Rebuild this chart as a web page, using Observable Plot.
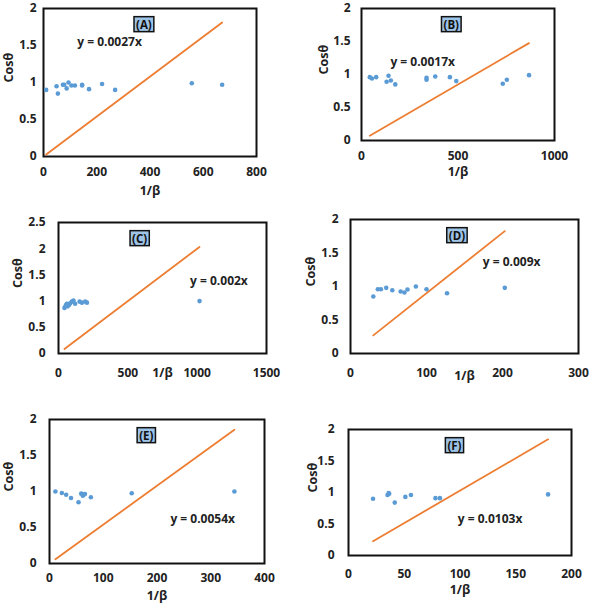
<!DOCTYPE html>
<html><head><meta charset="utf-8">
<script src="https://cdn.jsdelivr.net/npm/d3@7"></script>
<script src="https://cdn.jsdelivr.net/npm/@observablehq/plot@0.6"></script>
<style>
body{margin:0;background:#fff;}
#fig{position:relative;width:591px;height:604px;overflow:hidden;}
#fig svg{position:absolute;overflow:visible;}
</style></head><body><div id="fig"></div>
<script>
// ---- data ----
const labels = ["(A)", "(B)", "(C)", "(D)", "(E)", "(F)"];
const slopes = [0.0027, 0.0017, 0.002, 0.009, 0.0054, 0.0103];
const equations = ["y = 0.0027x", "y = 0.0017x", "y = 0.002x", "y = 0.009x", "y = 0.0054x", "y = 0.0103x"];

const xA = [10, 49, 54, 73, 78, 87, 94, 105, 118, 145, 145, 171, 220, 269, 557, 671];
const yA = [0.90, 0.95, 0.85, 0.97, 0.97, 0.92, 1.00, 0.96, 0.96, 0.97, 0.96, 0.91, 0.98, 0.90, 0.99, 0.97];

const xB = [43, 54, 76, 130, 140, 152, 175, 337, 337, 382, 458, 491, 732, 753, 868];
const yB = [0.96, 0.94, 0.96, 0.89, 0.98, 0.91, 0.85, 0.95, 0.92, 0.97, 0.96, 0.90, 0.86, 0.92, 0.99];

const xC = [43, 53, 60, 67, 77, 84, 96, 108, 120, 152, 169, 193, 205, 1017];
const yC = [0.87, 0.92, 0.95, 0.90, 0.93, 0.96, 0.99, 1.01, 0.95, 0.99, 0.97, 0.99, 0.97, 1.00];

const xD = [30, 36, 40, 47, 55, 66, 71, 75, 86, 100, 127, 203];
const yD = [0.85, 0.96, 0.96, 0.98, 0.945, 0.925, 0.91, 0.955, 1.00, 0.96, 0.90, 0.98];

const xE = [11, 23, 31, 40, 54, 59, 62, 64, 66, 77, 153, 344];
const yE = [1.00, 0.98, 0.955, 0.91, 0.85, 0.97, 0.94, 0.96, 0.965, 0.92, 0.975, 1.00];

const xF = [22, 35, 36, 36.5, 41.5, 51, 56, 78, 82, 179];
const yF = [0.90, 0.96, 0.99, 0.98, 0.84, 0.93, 0.96, 0.91, 0.91, 0.97];

const xTicks = [
  [0, 200, 400, 600, 800],
  [0, 500, 1000],
  [0, 500, 1000, 1500],
  [0, 100, 200, 300],
  [0, 100, 200, 300, 400],
  [0, 50, 100, 150, 200]
];
const yTicks = [
  [0, 0.5, 1, 1.5, 2],
  [0, 0.5, 1, 1.5, 2],
  [0, 0.5, 1, 1.5, 2, 2.5],
  [0, 0.5, 1, 1.5, 2],
  [0, 0.5, 1, 1.5, 2],
  [0, 0.5, 1, 1.5, 2]
];
const xSeries = [xA, xB, xC, xD, xE, xF];
const ySeries = [yA, yB, yC, yD, yE, yF];

// ---- layout (positions only) ----
const layout = [
  {left:0,   top:0,   w:295, h:200, mL:43, mT:8,  mR:39, mB:44, xPad:11, yPad:7,  yT:-35, xT:38, lx:377, eq:[248,1.54]},
  {left:295, top:0,   w:296, h:200, mL:66, mT:8,  mR:37, mB:60, xPad:11, yPad:11, yT:-38, xT:35, lx:465, eq:[317,1.19]},
  {left:0,   top:200, w:295, h:200, mL:58, mT:22, mR:29, mB:47, xPad:15, yPad:13, yT:-41, xT:23, lx:585, eq:[1157,1.38]},
  {left:295, top:200, w:296, h:200, mL:55, mT:19, mR:13, mB:47, xPad:15, yPad:12, yT:-40, xT:26, lx:140, eq:[212,1.37]},
  {left:0,   top:400, w:295, h:204, mL:49, mT:19, mR:31, mB:41, xPad:10, yPad:13, yT:-41, xT:36, lx:180, eq:[285,0.62]},
  {left:295, top:400, w:296, h:204, mL:53, mT:29, mR:20, mB:49, xPad:14, yPad:14, yT:-36, xT:38, lx:95,  eq:[127,0.58]}
];

const FONT = "'Open Sans', 'Liberation Sans', sans-serif";
const fig = document.getElementById("fig");
const fmt = d => String(d);

layout.forEach((L, i) => {
  const xs = xSeries[i], ys = ySeries[i];
  const pts = xs.map((x, j) => ({x, y: ys[j]}));
  const x0 = d3.min(xs), x1 = d3.max(xs);
  const trend = [{x: x0, y: slopes[i] * x0}, {x: x1, y: slopes[i] * x1}];
  const xt = xTicks[i], yt = yTicks[i];
  const svg = Plot.plot({
    width: L.w, height: L.h,
    marginLeft: L.mL, marginTop: L.mT, marginRight: L.mR, marginBottom: L.mB,
    style: {fontFamily: FONT, fontSize: "12px", fontWeight: "bold", color: "#222", background: "transparent"},
    x: {domain: [xt[0], xt[xt.length - 1]], ticks: xt, tickFormat: fmt, tickSize: 0, tickPadding: L.xPad, label: null},
    y: {domain: [yt[0], yt[yt.length - 1]], ticks: yt, tickFormat: fmt, tickSize: 0, tickPadding: L.yPad, label: null},
    marks: [
      Plot.frame({stroke: "#111", strokeWidth: 2}),
      Plot.line(trend, {x: "x", y: "y", stroke: "#ED7D31", strokeWidth: 1.8}),
      Plot.dot(pts, {x: "x", y: "y", r: 2.3, fill: "#5B9BD5", stroke: "none"}),
      Plot.text([equations[i]], {x: () => L.eq[0], y: () => L.eq[1], text: d => d, fontSize: 12, fontWeight: "bold", fill: "#222"}),
      Plot.text([labels[i]], {x: () => L.lx, frameAnchor: "top", dy: 12, text: d => d, fontSize: 11.5, fontWeight: "bold", fill: "#111"}),
      Plot.text(["1/β"], {frameAnchor: "bottom", dy: L.xT, text: d => d, fontSize: 12.5, fontWeight: "bold", fill: "#222"}),
      Plot.text(["Cosθ"], {frameAnchor: "left", dx: L.yT, rotate: -90, text: d => d, fontSize: 12.5, fontWeight: "bold", fill: "#222"})
    ]
  });
  svg.style.left = L.left + "px";
  svg.style.top = L.top + "px";
  fig.appendChild(svg);
  // box behind the panel label
  const t = [...svg.querySelectorAll("text")].find(e => e.textContent === labels[i]);
  if (t) {
    const b = t.getBBox();
    const r = document.createElementNS("http://www.w3.org/2000/svg", "rect");
    r.setAttribute("x", b.x - 2);
    r.setAttribute("y", b.y);
    r.setAttribute("width", b.width + 4);
    r.setAttribute("height", b.height);
    r.setAttribute("fill", "#9DC3E6");
    r.setAttribute("stroke", "#111");
    r.setAttribute("stroke-width", 1.5);
    const tr = t.getAttribute("transform");
    if (tr) r.setAttribute("transform", tr);
    t.parentNode.insertBefore(r, t);
  }
});
</script></body></html>
